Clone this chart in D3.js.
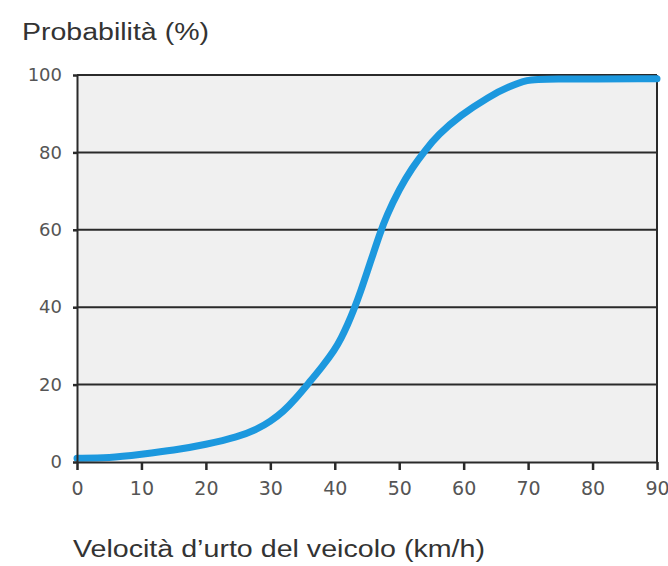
<!DOCTYPE html>
<html>
<head>
<meta charset="utf-8">
<script src="https://cdn.jsdelivr.net/npm/d3@7"></script>
<style>
  body { margin: 0; background: #fff; }
  svg { display: block; }
</style>
</head>
<body>
<div class="chart"></div>
<script>
"use strict";
(function(){

//values
var speeds = [0, 5, 10, 15, 20, 25, 28, 30, 32, 34, 36, 38, 40, 41, 42, 43, 44, 45, 46, 47, 48, 50, 52, 54, 56, 59.4, 64, 67, 70, 72, 90];
var probability = [1, 1, 2, 3, 4.5, 6.5, 8.5, 10.5, 13, 16.5, 20.5, 24.5, 29, 32, 35.5, 39.5, 44, 49, 54, 59, 63.5, 70.5, 76, 80.5, 84.5, 89.5, 94.5, 97, 98.8, 99, 99];
var xTicks = [0, 10, 20, 30, 40, 50, 60, 70, 80, 90];
var yTicks = [0, 20, 40, 60, 80, 100];
var yTitle = "Probabilità (%)";
var xTitle = "Velocità d\u2019urto del veicolo (km/h)";

var width = 668;
var height = 566;
var margin = {top: 75, right: 11, bottom: 104, left: 77};
var w = width - margin.left - margin.right;
var h = height - margin.top - margin.bottom;

var data = speeds.map(function(s, i){ return {x: s, y: probability[i]} });

var svg = d3.select('.chart')
            .append('svg')
            .attr('width', width)
            .attr('height', height);

var g = svg.append('g')
           .attr('transform', 'translate(' + margin.left + ',' + margin.top + ')');

var x = d3.scaleLinear().domain([0, 90]).range([0, w]);
var y = d3.scaleLinear().domain([0, 100]).range([h, 0]);

//grey plot background
g.append('rect')
 .attr('width', w)
 .attr('height', h)
 .style('fill', '#f0f0f0');

//horizontal grid lines
g.selectAll('.grid')
 .data(yTicks.slice(1))
 .enter().append('line')
 .attr('class', 'grid')
 .attr('x1', 0)
 .attr('x2', w)
 .attr('y1', function(d){ return y(d) })
 .attr('y2', function(d){ return y(d) })
 .style('stroke', '#2a2a2a')
 .style('stroke-width', 2);

//right border
g.append('line')
 .attr('x1', w).attr('x2', w)
 .attr('y1', 0).attr('y2', h)
 .style('stroke', '#2a2a2a')
 .style('stroke-width', 2);

//the curve, smoothed
var line = d3.line()
             .x(function(d){ return x(d.x) })
             .y(function(d){ return y(d.y) })
             .curve(d3.curveBasis);

g.append('path')
 .datum(data)
 .attr('d', line)
 .style('fill', 'none')
 .style('stroke', '#1c98de')
 .style('stroke-width', 7)
 .style('stroke-linecap', 'round')
 .style('stroke-linejoin', 'round');

//axes
var xAxis = g.append('g')
             .attr('transform', 'translate(0,' + h + ')')
             .call(d3.axisBottom(x).tickValues(xTicks).tickSize(8).tickPadding(12).tickSizeOuter(0));

var yAxis = g.append('g')
             .call(d3.axisLeft(y).tickValues(yTicks).tickSize(4).tickPadding(11).tickSizeOuter(0));

[xAxis, yAxis].forEach(function(ax){
  ax.select('.domain').style('stroke', '#2a2a2a').style('stroke-width', 2);
  ax.selectAll('.tick line').style('stroke', '#2a2a2a').style('stroke-width', 2.5);
  ax.selectAll('.tick text')
    .style('fill', '#555')
    .style('font-family', '"DejaVu Sans", Verdana, sans-serif');
});
xAxis.selectAll('.tick text').style('font-size', '19px');
yAxis.selectAll('.tick text').style('font-size', '18px');

//titles
svg.append('text')
   .attr('x', 22)
   .attr('y', 40)
   .attr('textLength', 187)
   .attr('lengthAdjust', 'spacingAndGlyphs')
   .style('font-family', '"Liberation Sans", Arial, sans-serif')
   .style('font-size', '23px')
   .style('fill', '#333')
   .text(yTitle);

svg.append('text')
   .attr('x', 73)
   .attr('y', 557)
   .attr('textLength', 412)
   .attr('lengthAdjust', 'spacingAndGlyphs')
   .style('font-family', '"Liberation Sans", Arial, sans-serif')
   .style('font-size', '23px')
   .style('fill', '#333')
   .text(xTitle);

})();
</script>
</body>
</html>
